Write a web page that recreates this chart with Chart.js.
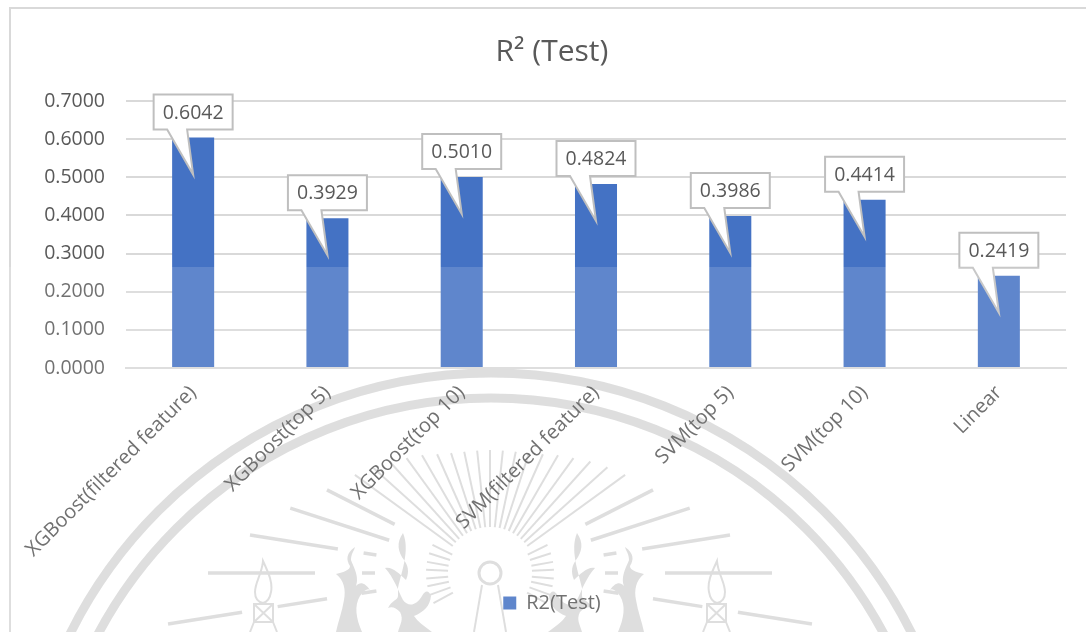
<!DOCTYPE html>
<html>
<head>
<meta charset="utf-8">
<title>R2 (Test)</title>
<script src="https://cdn.jsdelivr.net/npm/chart.js@4"></script>
<style>
  html, body { margin: 0; padding: 0; background: #fff; }
  #wrap { position: relative; width: 1086px; height: 632px; overflow: hidden; }
  #chartR2 { position: absolute; left: 0; top: 0; }
</style>
</head>
<body>
<div id="wrap"><canvas id="chartR2" width="1086" height="632"></canvas></div>
<script>
const categories = [
  "XGBoost(filtered feature)",
  "XGBoost(top 5)",
  "XGBoost(top 10)",
  "SVM(filtered feature)",
  "SVM(top 5)",
  "SVM(top 10)",
  "Linear",
];
const r2Test = [0.6042, 0.3929, 0.501, 0.4824, 0.3986, 0.4414, 0.2419];
const seriesName = "R2(Test)";
const chartTitle = "R² (Test)";

const FONT = "'Open Sans', 'Noto Sans', sans-serif";
const GRIS_TEXTO = "#595959";
const GRIS_LINEA = "#d9d9d9";
const AZUL = "#4472c4";

// fondo: sello de agua en gris, va detras de todo
const WM = "#d9d9d9";
const CX = 490;
const CY = 573;
const rayosLargos = [
  [0, 175, 282], [9, 154, 243], [18, 106, 210], [27, 107, 183],
  [0, 115, 128], [-9, 165, 215], [-9, 251, 326], [9, 115, 128], [-9, 115, 130],
];
const rayosFinos = [
  [36, 167], [42, 158], [48, 150], [54, 142], [60, 136], [66, 130], [72, 126],
  [78, 124], [84, 123], [90, 123],
];
const rayosCortos = [-28, -20, -12, -5, 3, 10, 18, 26];
const llamaA = new Path2D("M403 533 C396 543 398 552 404 560 C410 568 408 575 406 580 C400 574 392 566 385 568 C394 578 398 590 403 600 C408 607 416 606 422 596 C425 590 429 590 431 596 C430 606 424 612 414 616 C418 622 424 626 432 632 L398 632 C400 624 404 620 400 612 C396 608 392 606 388 608 C392 600 398 600 398 596 C398 592 398 590 398 588 C402 570 410 550 403 533Z");
const llamaB = new Path2D("M355 547 C346 553 346 560 350 566 C350 570 344 572 336 574 C344 580 346 590 344 600 C342 612 338 622 336 632 L362 632 C356 618 354 606 360 596 C364 590 368 588 370 590 C364 582 360 582 356 586 C360 576 352 564 351 560 C351 554 354 551 355 547Z");
const vela = new Path2D("M263 561 C268 572 273 582 271 592 C270 598 267 602 263 603 C258 602 255 598 255 592 C255 582 262 574 263 561Z M254 604 H273 V622 H254Z M254 604 L273 622 M273 604 L254 622 M250 632 L254 622 M277 632 L273 622");

function rayo(ctx, ang, r1, r2) {
  const a = ang * Math.PI / 180;
  ctx.beginPath();
  ctx.moveTo(CX - Math.cos(a) * r1, CY - Math.sin(a) * r1);
  ctx.lineTo(CX - Math.cos(a) * r2, CY - Math.sin(a) * r2);
  ctx.stroke();
}

const selloAgua = {
  id: "selloAgua",
  beforeDraw(chart) {
    const ctx = chart.ctx;
    ctx.save();
    ctx.strokeStyle = WM;
    ctx.fillStyle = WM;
    ctx.lineWidth = 9;
    ctx.beginPath();
    ctx.arc(491, 843, 470, 0, Math.PI * 2);
    ctx.stroke();
    ctx.beginPath();
    ctx.arc(491, 843, 445, 0, Math.PI * 2);
    ctx.stroke();

    [1, -1].forEach((lado) => {
      ctx.save();
      if (lado < 0) {
        ctx.translate(CX * 2, 0);
        ctx.scale(-1, 1);
      }
      ctx.lineWidth = 3.5;
      rayosLargos.forEach((r) => rayo(ctx, r[0], r[1], r[2]));
      ctx.lineWidth = 2;
      rayosFinos.forEach((r) => rayo(ctx, r[0], 46, r[1]));
      rayosCortos.forEach((ang) => rayo(ctx, ang, 42, 64));
      ctx.fill(llamaA);
      ctx.fill(llamaB);
      ctx.stroke(vela);
      ctx.beginPath();
      ctx.moveTo(482, 585);
      ctx.lineTo(474, 632);
      ctx.stroke();
      ctx.restore();
    });
    ctx.lineWidth = 3;
    ctx.beginPath();
    ctx.arc(CX, CY, 11, 0, Math.PI * 2);
    ctx.stroke();

    // marco izquierdo y superior
    ctx.strokeStyle = GRIS_LINEA;
    ctx.lineWidth = 2;
    ctx.beginPath();
    ctx.moveTo(10, 632);
    ctx.lineTo(10, 8);
    ctx.lineTo(1086, 8);
    ctx.stroke();
    ctx.restore();
  },
};

// etiquetas tipo globo encima de cada barra
const etiquetasGlobo = {
  id: "etiquetasGlobo",
  afterDatasetsDraw(chart) {
    const ctx = chart.ctx;
    const yScale = chart.scales.y;
    const barras = chart.getDatasetMeta(0).data;
    ctx.save();
    ctx.font = "19.5px " + FONT;
    ctx.textAlign = "center";
    ctx.textBaseline = "middle";
    barras.forEach((barra, i) => {
      const x = barra.x;
      const yTop = yScale.getPixelForValue(r2Test[i]);
      const w = 79, h = 35;
      const left = x - w / 2;
      const top = yTop - 43;
      ctx.beginPath();
      ctx.moveTo(left, top);
      ctx.lineTo(left + w, top);
      ctx.lineTo(left + w, top + h);
      ctx.lineTo(x - 6, top + h);
      ctx.lineTo(x, yTop + 37);
      ctx.lineTo(x - 26, top + h);
      ctx.lineTo(left, top + h);
      ctx.closePath();
      ctx.fillStyle = "#ffffff";
      ctx.fill();
      ctx.strokeStyle = "#bfbfbf";
      ctx.lineWidth = 2;
      ctx.stroke();
      ctx.fillStyle = GRIS_TEXTO;
      ctx.fillText(r2Test[i].toFixed(4), x, top + h / 2 + 1);
    });
    ctx.restore();
  },
};

// velo blanco de la imagen: aclara todo lo que queda debajo de y=267
const veloInferior = {
  id: "veloInferior",
  afterDraw(chart) {
    const ctx = chart.ctx;
    ctx.save();
    ctx.fillStyle = "rgba(255, 255, 255, 0.144)";
    ctx.fillRect(0, 267, chart.width, chart.height - 267);
    ctx.restore();
  },
};

new Chart(document.getElementById("chartR2").getContext("2d"), {
  type: "bar",
  data: {
    labels: categories,
    datasets: [
      {
        label: seriesName,
        data: r2Test,
        backgroundColor: AZUL,
        barPercentage: 0.313,
        categoryPercentage: 1,
      },
    ],
  },
  options: {
    responsive: false,
    animation: false,
    layout: { padding: { left: 38, right: 20, top: 0, bottom: 9 } },
    plugins: {
      title: {
        display: true,
        text: chartTitle,
        color: GRIS_TEXTO,
        font: { family: FONT, size: 30, weight: "normal" },
        padding: { top: 34, bottom: 31 },
      },
      legend: {
        display: true,
        position: "bottom",
        labels: {
          boxWidth: 13,
          boxHeight: 13,
          padding: 0,
          color: GRIS_TEXTO,
          font: { family: FONT, size: 20 },
        },
      },
      tooltip: { enabled: false },
    },
    scales: {
      x: {
        grid: { display: false, drawTicks: false },
        border: { color: GRIS_LINEA, width: 2 },
        ticks: {
          color: GRIS_TEXTO,
          font: { family: FONT, size: 20 },
          minRotation: 45,
          maxRotation: 45,
          padding: 13,
          autoSkip: false,
        },
        afterFit(scale) {
          scale.height = 225;
        },
      },
      y: {
        min: 0,
        max: 0.7,
        grid: { color: GRIS_LINEA, lineWidth: 2, drawTicks: false },
        border: { display: false },
        ticks: {
          stepSize: 0.1,
          color: GRIS_TEXTO,
          font: { family: FONT, size: 19.5 },
          padding: 21,
          callback: (v) => v.toFixed(4),
        },
        afterFit(scale) {
          scale.width = 88;
        },
      },
    },
  },
  plugins: [selloAgua, etiquetasGlobo, veloInferior],
});
</script>
</body>
</html>
